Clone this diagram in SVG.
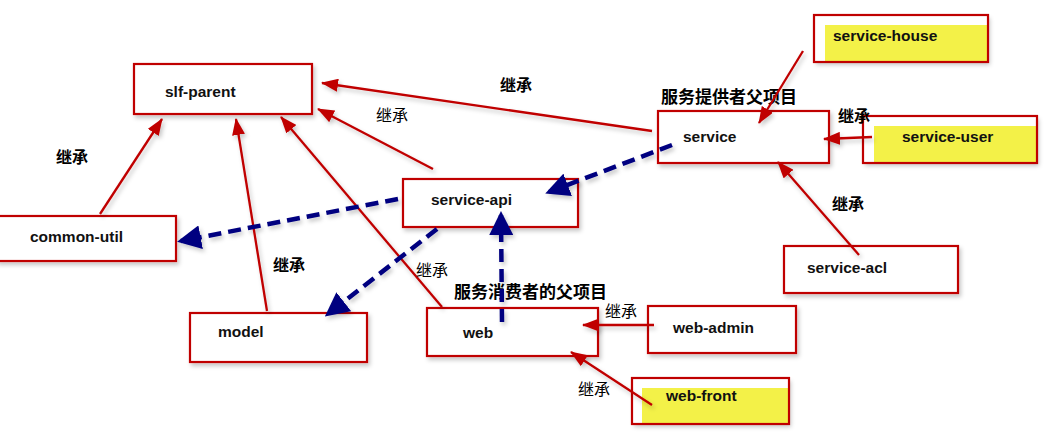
<svg xmlns="http://www.w3.org/2000/svg" width="1059" height="432" viewBox="0 0 1059 432">
<style>
.box{fill:#fff;stroke:#C00000;stroke-width:2.2}
.ybox{fill:none;stroke:#C00000;stroke-width:2.2}
.yfill{fill:#F3F148}
.t{font-family:"Liberation Sans",Arial,sans-serif;font-size:15.5px;font-weight:bold;fill:#111}
.cn{font-family:"Noto Sans CJK SC",sans-serif;font-size:16px;fill:#000}
.cnb{font-family:"Noto Sans CJK SC",sans-serif;font-size:16px;font-weight:bold;fill:#000}
.cnl{font-family:"Noto Sans CJK SC",sans-serif;font-size:17px;font-weight:bold;fill:#000}
.red{stroke:#C00000;stroke-width:2.3;fill:none;marker-end:url(#ra)}
.blue{stroke:#000080;stroke-width:4.5;fill:none;stroke-dasharray:13 7;marker-end:url(#ba)}
</style>
<defs>
<filter id="sh" x="-10%" y="-20%" width="130%" height="150%">
<feDropShadow dx="2" dy="3" stdDeviation="2" flood-color="#000" flood-opacity="0.22"/>
</filter>
<marker id="ra" markerUnits="userSpaceOnUse" markerWidth="17" markerHeight="13" refX="16" refY="6.5" orient="auto" viewBox="0 0 17 13">
<path d="M0,0 L17,6.5 L0,13 z" fill="#C00000"/>
</marker>
<marker id="ba" markerUnits="userSpaceOnUse" markerWidth="24" markerHeight="24" refX="20" refY="12" orient="auto" viewBox="0 0 24 24">
<path d="M0,0 L24,12 L0,24 z" fill="#000080"/>
</marker>
</defs>
<rect width="1059" height="432" fill="#fff"/>

<g id="slf-parent">
<rect class="box" x="134" y="64" width="178" height="50" filter="url(#sh)"/>
<text class="t" x="165" y="97">slf-parent</text>
</g>
<g id="common-util">
<rect class="box" x="-3" y="216" width="179" height="45" filter="url(#sh)"/>
<text class="t" x="30" y="242">common-util</text>
</g>
<g id="model">
<rect class="box" x="190" y="313" width="177" height="49" filter="url(#sh)"/>
<text class="t" x="218" y="337">model</text>
</g>
<g id="service-api">
<rect class="box" x="403" y="179" width="175" height="48" filter="url(#sh)"/>
<text class="t" x="431" y="205">service-api</text>
</g>
<g id="web">
<rect class="box" x="427" y="308" width="171" height="48" filter="url(#sh)"/>
<text class="t" x="463" y="338">web</text>
<text class="cnl" x="454" y="298">服务消费者的父项目</text>
</g>
<g id="service">
<rect class="box" x="658" y="111" width="171" height="52" filter="url(#sh)"/>
<text class="t" x="683" y="142">service</text>
<text class="cnl" x="661" y="103">服务提供者父项目</text>
</g>
<g id="service-house">
<rect x="814" y="15" width="174" height="47" fill="#fff" filter="url(#sh)"/>
<rect class="yfill" x="825" y="25" width="162" height="36"/>
<rect class="ybox" x="814" y="15" width="174" height="47"/>
<text class="t" x="833" y="41">service-house</text>
</g>
<g id="service-user">
<rect x="863" y="116" width="174" height="47" fill="#fff" filter="url(#sh)"/>
<rect class="yfill" x="874" y="126" width="162" height="36"/>
<rect class="ybox" x="863" y="116" width="174" height="47"/>
<text class="t" x="902" y="142">service-user</text>
</g>
<g id="service-acl">
<rect class="box" x="784" y="246" width="174" height="47" filter="url(#sh)"/>
<text class="t" x="807" y="273">service-acl</text>
</g>
<g id="web-admin">
<rect class="box" x="648" y="306" width="148" height="47" filter="url(#sh)"/>
<text class="t" x="673" y="333">web-admin</text>
</g>
<g id="web-front">
<rect x="632" y="378" width="157" height="46" fill="#fff" filter="url(#sh)"/>
<rect class="yfill" x="642" y="388" width="146" height="35"/>
<rect class="ybox" x="632" y="378" width="157" height="46"/>
<text class="t" x="666" y="401">web-front</text>
</g>

<g id="connectors" filter="url(#sh)">
<line class="red" x1="100" y1="214" x2="162" y2="119"/>
<line class="red" x1="267" y1="311" x2="236" y2="119"/>
<line class="red" x1="442" y1="307" x2="281" y2="117"/>
<line class="red" x1="433" y1="169" x2="318" y2="109"/>
<line class="red" x1="652" y1="131" x2="322" y2="83"/>
<line class="red" x1="803" y1="51" x2="759" y2="123"/>
<line class="red" x1="872" y1="137" x2="824" y2="139"/>
<line class="red" x1="859" y1="255" x2="778" y2="162"/>
<line class="red" x1="654" y1="325" x2="583" y2="325"/>
<line class="red" x1="652" y1="405" x2="571" y2="352"/>
<line class="blue" x1="672" y1="145" x2="549" y2="192"/>
<line class="blue" x1="398" y1="199" x2="181" y2="241"/>
<line class="blue" x1="437" y1="229" x2="328" y2="314"/>
<line class="blue" x1="502" y1="322" x2="501" y2="215"/>
</g>

<g id="labels">
<text class="cnb" x="500" y="91">继承</text>
<text class="cn" x="376" y="121">继承</text>
<text class="cnb" x="56" y="163">继承</text>
<text class="cnb" x="273" y="271">继承</text>
<text class="cn" x="416" y="276">继承</text>
<text class="cnb" x="838" y="122">继承</text>
<text class="cnb" x="832" y="210">继承</text>
<text class="cn" x="605" y="317">继承</text>
<text class="cn" x="578" y="395">继承</text>
</g>
</svg>
